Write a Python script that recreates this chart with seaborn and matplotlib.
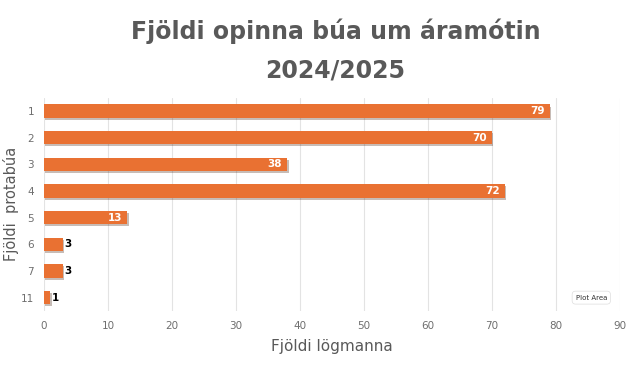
import matplotlib
matplotlib.use("Agg")
import matplotlib.pyplot as plt
import matplotlib.patheffects as pe
import seaborn as sns
import pandas as pd

categories = ["1", "2", "3", "4", "5", "6", "7", "11"]
values = [79, 70, 38, 72, 13, 3, 3, 1]
xticks = [0, 10, 20, 30, 40, 50, 60, 70, 80, 90]
title = "Fjöldi opinna búa um áramótin\n2024/2025"
xlabel = "Fjöldi lögmanna"
ylabel = "Fjöldi  protabúa"

df = pd.DataFrame({"cat": categories, "val": values})

sns.set_theme(style="white")
plt.rcParams['font.family'] = ['DejaVu Sans']

fig = plt.figure(figsize=(6.27, 3.76), dpi=100)
ax = fig.add_axes([0.070, 0.173, 0.919, 0.567])

bar_color = "#E97132"
sns.barplot(data=df, x="val", y="cat", orient="h", color=bar_color, width=0.5,
            saturation=1, ax=ax, order=categories)
for p in ax.patches:
    p.set_path_effects([pe.SimplePatchShadow(offset=(1.0, -1.5), alpha=0.3), pe.Normal()])
    p.set_edgecolor("none")

ax.set_xlim(0, 90)
ax.set_xticks(xticks)
ax.xaxis.grid(True, color="#E3E3E3", linewidth=0.8)
ax.set_axisbelow(True)
for s in ax.spines.values():
    s.set_visible(False)
ax.tick_params(axis="both", length=0, colors="#6E6E6E", labelsize=7.5, pad=7)
ax.set_xlabel(xlabel, fontsize=11, color="#595959", labelpad=6)
ax.set_ylabel(ylabel, fontsize=10.5, color="#595959")
ax.yaxis.set_label_coords(-0.043, 0.5)

for i, v in enumerate(values):
    if v >= 10:
        ax.text(v - 0.8, i, str(v), ha="right", va="center", color="white",
                fontsize=7.5, fontweight="bold")
    else:
        ax.text(v + 0.2, i, str(v), ha="left", va="center", color="black",
                fontsize=7.5, fontweight="bold")

fig.text(0.535, 0.95, title, ha="center", va="top", fontsize=17, fontweight="bold",
         color="#595959", linespacing=1.75)

ax.text(85.5, 7, "Plot Area", ha="center", va="center", fontsize=5, color="#333333",
        bbox=dict(boxstyle="round,pad=0.5", fc="white", ec="#DDDDDD", lw=0.5))

fig.savefig("out.png", dpi=100)
